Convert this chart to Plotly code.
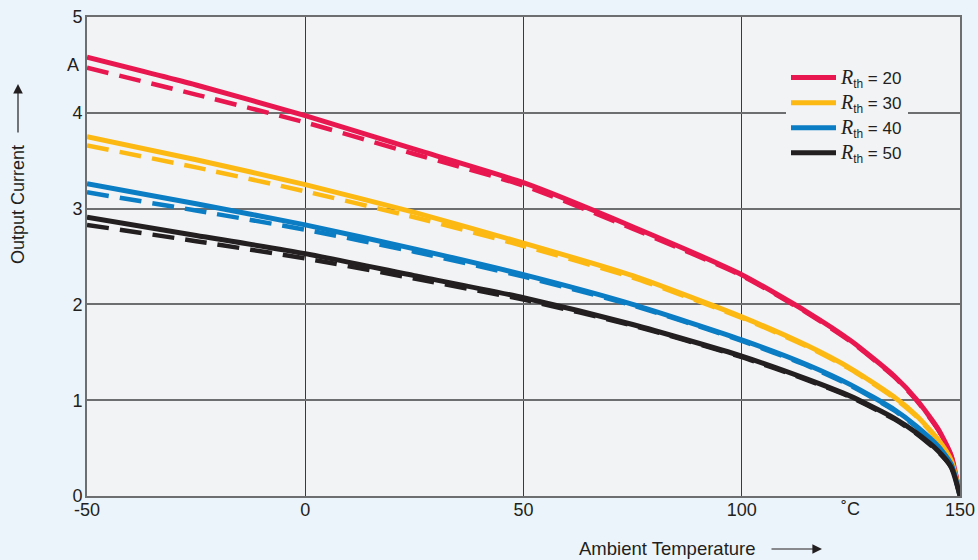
import plotly.graph_objects as go

temps = [-50, -25, 0, 25, 50, 75, 100, 115, 125, 135, 140, 145, 148, 150]

red_solid = [4.58, 4.29, 3.97, 3.62, 3.27, 2.81, 2.31, 1.92, 1.62, 1.25, 1.01, 0.70, 0.42, 0.0]
red_dash = [4.47, 4.19, 3.90, 3.57, 3.24, 2.79, 2.30, 1.91, 1.61, 1.24, 1.00, 0.69, 0.42, 0.0]
yel_solid = [3.75, 3.51, 3.25, 2.96, 2.64, 2.30, 1.87, 1.57, 1.33, 1.03, 0.84, 0.59, 0.37, 0.0]
yel_dash = [3.66, 3.43, 3.18, 2.91, 2.61, 2.28, 1.86, 1.56, 1.32, 1.02, 0.83, 0.58, 0.37, 0.0]
blu_solid = [3.26, 3.05, 2.83, 2.58, 2.31, 2.00, 1.63, 1.37, 1.16, 0.90, 0.73, 0.52, 0.33, 0.0]
blu_dash = [3.17, 2.98, 2.78, 2.55, 2.29, 1.99, 1.62, 1.36, 1.15, 0.89, 0.72, 0.51, 0.33, 0.0]
blk_solid = [2.91, 2.72, 2.53, 2.30, 2.07, 1.79, 1.46, 1.22, 1.04, 0.81, 0.66, 0.47, 0.30, 0.0]
blk_dash = [2.83, 2.66, 2.48, 2.27, 2.05, 1.78, 1.45, 1.21, 1.03, 0.80, 0.65, 0.46, 0.30, 0.0]

labels = ["20", "30", "40", "50"]
colors = ["#e8174f", "#fdb913", "#0a7dc4", "#231f20"]
solids = [red_solid, yel_solid, blu_solid, blk_solid]
dashes = [red_dash, yel_dash, blu_dash, blk_dash]

x_ticks = [-50, 0, 50, 100, 150]
y_ticks = [0, 1, 2, 3, 4, 5]

TXT = "#231f20"
FONT = "Liberation Sans, Arial, sans-serif"

fig = go.Figure()
for lab, col, ys in zip(labels, colors, dashes):
    fig.add_trace(go.Scatter(x=temps, y=ys, mode="lines", showlegend=False,
                             line=dict(color=col, width=4.5, dash="22px,11px", shape="spline", smoothing=0.6),
                             hoverinfo="skip"))
for lab, col, ys in zip(labels, colors, solids):
    fig.add_trace(go.Scatter(x=temps, y=ys, mode="lines",
                             name='<span style="font-family:Liberation Serif, Times New Roman, serif;font-size:20px"><i>R</i></span><sub>th</sub> = ' + lab,
                             line=dict(color=col, width=5, shape="spline", smoothing=0.6)))

W, H = 978, 560
L, R, T, B = 87, 18, 17, 64
pw, ph = W - L - R, H - T - B
def px2paper(px, py):
    return (px - L) / pw, (H - B - py) / ph

lx, ly = px2paper(786, 60)

fig.update_layout(
    width=W, height=H,
    margin=dict(l=L, r=R, t=T, b=B, autoexpand=False),
    paper_bgcolor="#ecf4fb",
    plot_bgcolor="#f2f3f5",
    font=dict(family=FONT, size=18, color=TXT),
    showlegend=True,
    legend=dict(x=lx, y=ly, xanchor="left", yanchor="top",
                bgcolor="#f2f3f5", borderwidth=0,
                font=dict(size=17, color=TXT), tracegroupgap=0,
                itemwidth=45),
    xaxis=dict(range=[-50, 150], tickvals=x_ticks, ticktext=[str(v) for v in x_ticks],
               showgrid=True, gridcolor="#3a3a3a", gridwidth=1, automargin=False,
               zeroline=False, showline=True, linecolor="#6d6e70", linewidth=2, mirror=True,
               ticks="", ticklabelstandoff=-4),
    yaxis=dict(range=[0, 5], tickvals=y_ticks, ticktext=[str(v) for v in y_ticks],
               showgrid=True, gridcolor="#6d6e70", gridwidth=1.5, automargin=False,
               zeroline=False, showline=True, linecolor="#6d6e70", linewidth=2, mirror=True,
               ticks="", ticklabelstandoff=-1),
)

tx, ty = px2paper(577, 548)
ox, oy = px2paper(18, 205)
fig.add_annotation(x=-50, y=4.5, xref="x", yref="y", text="A", showarrow=False,
                   xanchor="right", xshift=-6, font=dict(size=18, color=TXT))
fig.add_annotation(x=125, y=0, xref="x", yref="y", text="˚C", showarrow=False,
                   yanchor="top", yshift=-1, font=dict(size=18, color=TXT))
fig.add_annotation(x=tx, y=ty, xref="paper", yref="paper", text="Ambient Temperature", showarrow=False,
                   xanchor="left", yanchor="middle", font=dict(size=18.5, color=TXT))
fig.add_annotation(x=ox, y=oy, xref="paper", yref="paper", text="Output Current", showarrow=False,
                   textangle=-90, xanchor="center", yanchor="middle", font=dict(size=18, color=TXT))

# arrows
hx, hy = px2paper(822, 549)
fig.add_annotation(x=hx, y=hy, xref="paper", yref="paper", ax=-52, ay=0,
                   showarrow=True, arrowhead=2, arrowsize=1.6, arrowwidth=1.2, arrowcolor=TXT, text="")
hx, hy = px2paper(18, 84)
fig.add_annotation(x=hx, y=hy, xref="paper", yref="paper", ax=0, ay=50,
                   showarrow=True, arrowhead=2, arrowsize=1.6, arrowwidth=1.2, arrowcolor=TXT, text="")

fig.write_html("out.html", config={"displayModeBar": False},
               post_script="document.body.style.margin='0';document.body.style.padding='0';document.body.style.overflow='hidden';document.documentElement.style.overflow='hidden';")
